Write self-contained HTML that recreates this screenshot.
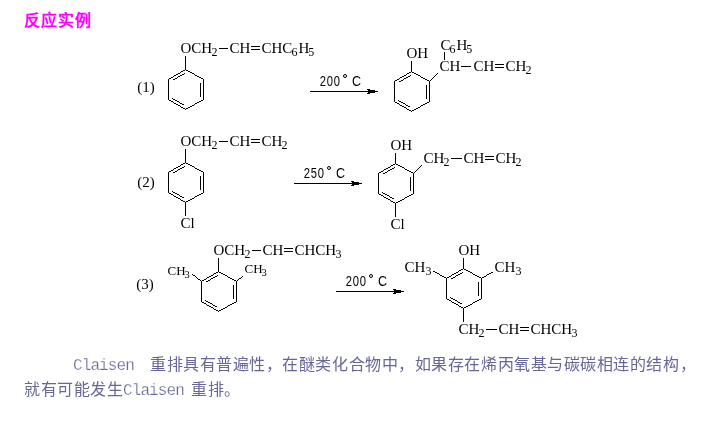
<!DOCTYPE html>
<html lang="zh-CN"><head><meta charset="utf-8"><style>
html,body{margin:0;padding:0;background:#fff;width:708px;height:426px;overflow:hidden}
#c{position:absolute;left:0;top:0;will-change:transform}
.t{position:absolute;white-space:nowrap;font-family:"Liberation Sans",sans-serif;}
.title{left:24px;top:11px;font-size:16px;font-weight:bold;color:#f0f;line-height:20px;letter-spacing:1px}
.p{color:#666699;font-size:16px;line-height:20px;font-weight:300}
.cj{letter-spacing:0.55px}
.lat{font-family:"Liberation Mono",monospace;letter-spacing:-0.9px;font-weight:400;-webkit-text-stroke:0.25px #fff}
</style></head><body>
<div class="t title">反应实例</div>
<svg id="c" width="708" height="426" viewBox="0 0 708 426">
<g fill="#000" stroke="none" shape-rendering="crispEdges">
<rect x="185" y="56" width="1" height="14"/>
<rect x="219" y="48" width="9" height="1"/>
<rect x="251" y="46" width="9" height="1"/>
<rect x="251" y="49" width="9" height="1"/>
<rect x="310" y="91" width="68" height="1"/>
<rect x="367" y="89" width="3" height="1"/>
<rect x="367" y="93" width="3" height="1"/>
<rect x="368" y="90" width="7" height="1"/>
<rect x="368" y="92" width="7" height="1"/>
<circle cx="345" cy="76" r="1.5" fill="none" stroke="#000" stroke-width="1" shape-rendering="auto"/>
<rect x="411" y="61" width="1" height="11"/>
<rect x="444" y="52" width="1" height="8"/>
<rect x="461" y="66" width="10" height="1"/>
<rect x="495" y="64" width="9" height="1"/>
<rect x="495" y="67" width="9" height="1"/>
<rect x="185" y="149" width="1" height="14"/>
<rect x="219" y="141" width="9" height="1"/>
<rect x="251" y="139" width="9" height="1"/>
<rect x="251" y="142" width="9" height="1"/>
<rect x="185" y="203" width="1" height="13"/>
<rect x="294" y="183" width="68" height="1"/>
<rect x="351" y="181" width="3" height="1"/>
<rect x="351" y="185" width="3" height="1"/>
<rect x="352" y="182" width="7" height="1"/>
<rect x="352" y="184" width="7" height="1"/>
<circle cx="329" cy="168" r="1.5" fill="none" stroke="#000" stroke-width="1" shape-rendering="auto"/>
<rect x="395" y="153" width="1" height="11"/>
<rect x="451" y="158" width="11" height="1"/>
<rect x="485" y="156" width="9" height="1"/>
<rect x="485" y="159" width="9" height="1"/>
<rect x="395" y="204" width="1" height="13"/>
<rect x="218" y="258" width="1" height="14"/>
<rect x="252" y="250" width="9" height="1"/>
<rect x="284" y="248" width="9" height="1"/>
<rect x="284" y="251" width="9" height="1"/>
<rect x="336" y="291" width="68" height="1"/>
<rect x="393" y="289" width="3" height="1"/>
<rect x="393" y="293" width="3" height="1"/>
<rect x="394" y="290" width="7" height="1"/>
<rect x="394" y="292" width="7" height="1"/>
<circle cx="371" cy="276" r="1.5" fill="none" stroke="#000" stroke-width="1" shape-rendering="auto"/>
<rect x="463" y="258" width="1" height="11"/>
<rect x="463" y="309" width="1" height="13"/>
<rect x="486" y="329" width="11" height="1"/>
<rect x="520" y="327" width="9" height="1"/>
<rect x="520" y="330" width="9" height="1"/>
<path d="M168 79h1v1h-1zM168 80h1v1h-1zM168 81h1v1h-1zM168 82h1v1h-1zM168 83h1v1h-1zM168 84h1v1h-1zM168 85h1v1h-1zM168 86h1v1h-1zM168 87h1v1h-1zM168 88h1v1h-1zM168 89h1v1h-1zM168 90h1v1h-1zM168 91h1v1h-1zM168 92h1v1h-1zM168 93h1v1h-1zM168 94h1v1h-1zM168 95h1v1h-1zM168 96h1v1h-1zM168 97h1v1h-1zM168 98h1v1h-1zM168 99h1v1h-1zM168 172h1v1h-1zM168 173h1v1h-1zM168 174h1v1h-1zM168 175h1v1h-1zM168 176h1v1h-1zM168 177h1v1h-1zM168 178h1v1h-1zM168 179h1v1h-1zM168 180h1v1h-1zM168 181h1v1h-1zM168 182h1v1h-1zM168 183h1v1h-1zM168 184h1v1h-1zM168 185h1v1h-1zM168 186h1v1h-1zM168 187h1v1h-1zM168 188h1v1h-1zM168 189h1v1h-1zM168 190h1v1h-1zM168 191h1v1h-1zM168 192h1v1h-1zM169 78h1v1h-1zM169 100h1v1h-1zM169 171h1v1h-1zM169 193h1v1h-1zM170 78h1v1h-1zM170 100h1v1h-1zM170 171h1v1h-1zM170 193h1v1h-1zM171 77h1v1h-1zM171 101h1v1h-1zM171 170h1v1h-1zM171 194h1v1h-1zM172 77h1v1h-1zM172 98h1v1h-1zM172 101h1v1h-1zM172 170h1v1h-1zM172 191h1v1h-1zM172 194h1v1h-1zM173 76h1v1h-1zM173 79h1v1h-1zM173 99h1v1h-1zM173 102h1v1h-1zM173 169h1v1h-1zM173 172h1v1h-1zM173 192h1v1h-1zM173 195h1v1h-1zM174 75h1v1h-1zM174 79h1v1h-1zM174 99h1v1h-1zM174 103h1v1h-1zM174 168h1v1h-1zM174 172h1v1h-1zM174 192h1v1h-1zM174 196h1v1h-1zM175 75h1v1h-1zM175 78h1v1h-1zM175 100h1v1h-1zM175 103h1v1h-1zM175 168h1v1h-1zM175 171h1v1h-1zM175 193h1v1h-1zM175 196h1v1h-1zM176 74h1v1h-1zM176 78h1v1h-1zM176 100h1v1h-1zM176 104h1v1h-1zM176 167h1v1h-1zM176 171h1v1h-1zM176 193h1v1h-1zM176 197h1v1h-1zM177 74h1v1h-1zM177 77h1v1h-1zM177 101h1v1h-1zM177 104h1v1h-1zM177 167h1v1h-1zM177 170h1v1h-1zM177 194h1v1h-1zM177 197h1v1h-1zM178 73h1v1h-1zM178 76h1v1h-1zM178 101h1v1h-1zM178 105h1v1h-1zM178 166h1v1h-1zM178 169h1v1h-1zM178 194h1v1h-1zM178 198h1v1h-1zM179 73h1v1h-1zM179 76h1v1h-1zM179 102h1v1h-1zM179 105h1v1h-1zM179 166h1v1h-1zM179 169h1v1h-1zM179 195h1v1h-1zM179 198h1v1h-1zM180 72h1v1h-1zM180 75h1v1h-1zM180 103h1v1h-1zM180 106h1v1h-1zM180 165h1v1h-1zM180 168h1v1h-1zM180 196h1v1h-1zM180 199h1v1h-1zM181 71h1v1h-1zM181 75h1v1h-1zM181 103h1v1h-1zM181 107h1v1h-1zM181 164h1v1h-1zM181 168h1v1h-1zM181 196h1v1h-1zM181 200h1v1h-1zM182 71h1v1h-1zM182 74h1v1h-1zM182 104h1v1h-1zM182 107h1v1h-1zM182 164h1v1h-1zM182 167h1v1h-1zM182 197h1v1h-1zM182 200h1v1h-1zM183 70h1v1h-1zM183 74h1v1h-1zM183 104h1v1h-1zM183 108h1v1h-1zM183 163h1v1h-1zM183 167h1v1h-1zM183 197h1v1h-1zM183 201h1v1h-1zM184 70h1v1h-1zM184 73h1v1h-1zM184 108h1v1h-1zM184 163h1v1h-1zM184 166h1v1h-1zM184 201h1v1h-1zM185 109h1v1h-1zM185 202h1v1h-1zM186 70h1v1h-1zM186 108h1v1h-1zM186 163h1v1h-1zM186 201h1v1h-1zM187 70h1v1h-1zM187 108h1v1h-1zM187 163h1v1h-1zM187 201h1v1h-1zM188 71h1v1h-1zM188 107h1v1h-1zM188 164h1v1h-1zM188 200h1v1h-1zM189 71h1v1h-1zM189 107h1v1h-1zM189 164h1v1h-1zM189 200h1v1h-1zM190 72h1v1h-1zM190 106h1v1h-1zM190 165h1v1h-1zM190 199h1v1h-1zM191 72h1v1h-1zM191 106h1v1h-1zM191 165h1v1h-1zM191 199h1v1h-1zM192 73h1v1h-1zM192 105h1v1h-1zM192 166h1v1h-1zM192 198h1v1h-1zM192 274h1v1h-1zM193 73h1v1h-1zM193 105h1v1h-1zM193 166h1v1h-1zM193 198h1v1h-1zM193 275h1v1h-1zM194 74h1v1h-1zM194 104h1v1h-1zM194 167h1v1h-1zM194 197h1v1h-1zM194 275h1v1h-1zM195 75h1v1h-1zM195 103h1v1h-1zM195 168h1v1h-1zM195 196h1v1h-1zM195 276h1v1h-1zM196 75h1v1h-1zM196 103h1v1h-1zM196 168h1v1h-1zM196 196h1v1h-1zM196 277h1v1h-1zM197 76h1v1h-1zM197 102h1v1h-1zM197 169h1v1h-1zM197 195h1v1h-1zM197 278h1v1h-1zM198 76h1v1h-1zM198 102h1v1h-1zM198 169h1v1h-1zM198 195h1v1h-1zM198 279h1v1h-1zM199 77h1v1h-1zM199 101h1v1h-1zM199 170h1v1h-1zM199 194h1v1h-1zM199 279h1v1h-1zM200 77h1v1h-1zM200 83h1v1h-1zM200 84h1v1h-1zM200 85h1v1h-1zM200 86h1v1h-1zM200 87h1v1h-1zM200 88h1v1h-1zM200 89h1v1h-1zM200 90h1v1h-1zM200 91h1v1h-1zM200 92h1v1h-1zM200 93h1v1h-1zM200 94h1v1h-1zM200 95h1v1h-1zM200 96h1v1h-1zM200 101h1v1h-1zM200 170h1v1h-1zM200 176h1v1h-1zM200 177h1v1h-1zM200 178h1v1h-1zM200 179h1v1h-1zM200 180h1v1h-1zM200 181h1v1h-1zM200 182h1v1h-1zM200 183h1v1h-1zM200 184h1v1h-1zM200 185h1v1h-1zM200 186h1v1h-1zM200 187h1v1h-1zM200 188h1v1h-1zM200 189h1v1h-1zM200 194h1v1h-1zM200 280h1v1h-1zM201 78h1v1h-1zM201 100h1v1h-1zM201 171h1v1h-1zM201 193h1v1h-1zM201 281h1v1h-1zM201 282h1v1h-1zM201 283h1v1h-1zM201 284h1v1h-1zM201 285h1v1h-1zM201 286h1v1h-1zM201 287h1v1h-1zM201 288h1v1h-1zM201 289h1v1h-1zM201 290h1v1h-1zM201 291h1v1h-1zM201 292h1v1h-1zM201 293h1v1h-1zM201 294h1v1h-1zM201 295h1v1h-1zM201 296h1v1h-1zM201 297h1v1h-1zM201 298h1v1h-1zM201 299h1v1h-1zM201 300h1v1h-1zM201 301h1v1h-1zM202 78h1v1h-1zM202 100h1v1h-1zM202 171h1v1h-1zM202 193h1v1h-1zM202 280h1v1h-1zM202 302h1v1h-1zM203 79h1v1h-1zM203 80h1v1h-1zM203 81h1v1h-1zM203 82h1v1h-1zM203 83h1v1h-1zM203 84h1v1h-1zM203 85h1v1h-1zM203 86h1v1h-1zM203 87h1v1h-1zM203 88h1v1h-1zM203 89h1v1h-1zM203 90h1v1h-1zM203 91h1v1h-1zM203 92h1v1h-1zM203 93h1v1h-1zM203 94h1v1h-1zM203 95h1v1h-1zM203 96h1v1h-1zM203 97h1v1h-1zM203 98h1v1h-1zM203 99h1v1h-1zM203 172h1v1h-1zM203 173h1v1h-1zM203 174h1v1h-1zM203 175h1v1h-1zM203 176h1v1h-1zM203 177h1v1h-1zM203 178h1v1h-1zM203 179h1v1h-1zM203 180h1v1h-1zM203 181h1v1h-1zM203 182h1v1h-1zM203 183h1v1h-1zM203 184h1v1h-1zM203 185h1v1h-1zM203 186h1v1h-1zM203 187h1v1h-1zM203 188h1v1h-1zM203 189h1v1h-1zM203 190h1v1h-1zM203 191h1v1h-1zM203 192h1v1h-1zM203 280h1v1h-1zM203 302h1v1h-1zM204 279h1v1h-1zM204 303h1v1h-1zM205 279h1v1h-1zM205 300h1v1h-1zM205 303h1v1h-1zM206 278h1v1h-1zM206 281h1v1h-1zM206 301h1v1h-1zM206 304h1v1h-1zM207 277h1v1h-1zM207 281h1v1h-1zM207 301h1v1h-1zM207 305h1v1h-1zM208 277h1v1h-1zM208 280h1v1h-1zM208 302h1v1h-1zM208 305h1v1h-1zM209 276h1v1h-1zM209 280h1v1h-1zM209 302h1v1h-1zM209 306h1v1h-1zM210 276h1v1h-1zM210 279h1v1h-1zM210 303h1v1h-1zM210 306h1v1h-1zM211 275h1v1h-1zM211 278h1v1h-1zM211 303h1v1h-1zM211 307h1v1h-1zM212 275h1v1h-1zM212 278h1v1h-1zM212 304h1v1h-1zM212 307h1v1h-1zM213 274h1v1h-1zM213 277h1v1h-1zM213 305h1v1h-1zM213 308h1v1h-1zM214 273h1v1h-1zM214 277h1v1h-1zM214 305h1v1h-1zM214 309h1v1h-1zM215 273h1v1h-1zM215 276h1v1h-1zM215 306h1v1h-1zM215 309h1v1h-1zM216 272h1v1h-1zM216 276h1v1h-1zM216 306h1v1h-1zM216 310h1v1h-1zM217 272h1v1h-1zM217 275h1v1h-1zM217 310h1v1h-1zM218 311h1v1h-1zM219 272h1v1h-1zM219 310h1v1h-1zM220 272h1v1h-1zM220 310h1v1h-1zM221 273h1v1h-1zM221 309h1v1h-1zM222 273h1v1h-1zM222 309h1v1h-1zM223 274h1v1h-1zM223 308h1v1h-1zM224 274h1v1h-1zM224 308h1v1h-1zM225 275h1v1h-1zM225 307h1v1h-1zM226 275h1v1h-1zM226 307h1v1h-1zM227 276h1v1h-1zM227 306h1v1h-1zM228 277h1v1h-1zM228 305h1v1h-1zM229 277h1v1h-1zM229 305h1v1h-1zM230 278h1v1h-1zM230 304h1v1h-1zM231 278h1v1h-1zM231 304h1v1h-1zM232 279h1v1h-1zM232 303h1v1h-1zM233 279h1v1h-1zM233 285h1v1h-1zM233 286h1v1h-1zM233 287h1v1h-1zM233 288h1v1h-1zM233 289h1v1h-1zM233 290h1v1h-1zM233 291h1v1h-1zM233 292h1v1h-1zM233 293h1v1h-1zM233 294h1v1h-1zM233 295h1v1h-1zM233 296h1v1h-1zM233 297h1v1h-1zM233 298h1v1h-1zM233 303h1v1h-1zM234 280h1v1h-1zM234 302h1v1h-1zM235 280h1v1h-1zM235 302h1v1h-1zM236 281h1v1h-1zM236 282h1v1h-1zM236 283h1v1h-1zM236 284h1v1h-1zM236 285h1v1h-1zM236 286h1v1h-1zM236 287h1v1h-1zM236 288h1v1h-1zM236 289h1v1h-1zM236 290h1v1h-1zM236 291h1v1h-1zM236 292h1v1h-1zM236 293h1v1h-1zM236 294h1v1h-1zM236 295h1v1h-1zM236 296h1v1h-1zM236 297h1v1h-1zM236 298h1v1h-1zM236 299h1v1h-1zM236 300h1v1h-1zM236 301h1v1h-1zM237 280h1v1h-1zM238 279h1v1h-1zM239 278h1v1h-1zM240 278h1v1h-1zM241 277h1v1h-1zM242 276h1v1h-1zM378 173h1v1h-1zM378 174h1v1h-1zM378 175h1v1h-1zM378 176h1v1h-1zM378 177h1v1h-1zM378 178h1v1h-1zM378 179h1v1h-1zM378 180h1v1h-1zM378 181h1v1h-1zM378 182h1v1h-1zM378 183h1v1h-1zM378 184h1v1h-1zM378 185h1v1h-1zM378 186h1v1h-1zM378 187h1v1h-1zM378 188h1v1h-1zM378 189h1v1h-1zM378 190h1v1h-1zM378 191h1v1h-1zM378 192h1v1h-1zM378 193h1v1h-1zM379 172h1v1h-1zM379 194h1v1h-1zM380 172h1v1h-1zM380 194h1v1h-1zM381 171h1v1h-1zM381 195h1v1h-1zM382 171h1v1h-1zM382 192h1v1h-1zM382 195h1v1h-1zM383 170h1v1h-1zM383 173h1v1h-1zM383 193h1v1h-1zM383 196h1v1h-1zM384 169h1v1h-1zM384 173h1v1h-1zM384 193h1v1h-1zM384 197h1v1h-1zM385 169h1v1h-1zM385 172h1v1h-1zM385 194h1v1h-1zM385 197h1v1h-1zM386 168h1v1h-1zM386 172h1v1h-1zM386 194h1v1h-1zM386 198h1v1h-1zM387 168h1v1h-1zM387 171h1v1h-1zM387 195h1v1h-1zM387 198h1v1h-1zM388 167h1v1h-1zM388 170h1v1h-1zM388 195h1v1h-1zM388 199h1v1h-1zM389 167h1v1h-1zM389 170h1v1h-1zM389 196h1v1h-1zM389 199h1v1h-1zM390 166h1v1h-1zM390 169h1v1h-1zM390 197h1v1h-1zM390 200h1v1h-1zM391 165h1v1h-1zM391 169h1v1h-1zM391 197h1v1h-1zM391 201h1v1h-1zM392 165h1v1h-1zM392 168h1v1h-1zM392 198h1v1h-1zM392 201h1v1h-1zM393 164h1v1h-1zM393 168h1v1h-1zM393 198h1v1h-1zM393 202h1v1h-1zM394 81h1v1h-1zM394 82h1v1h-1zM394 83h1v1h-1zM394 84h1v1h-1zM394 85h1v1h-1zM394 86h1v1h-1zM394 87h1v1h-1zM394 88h1v1h-1zM394 89h1v1h-1zM394 90h1v1h-1zM394 91h1v1h-1zM394 92h1v1h-1zM394 93h1v1h-1zM394 94h1v1h-1zM394 95h1v1h-1zM394 96h1v1h-1zM394 97h1v1h-1zM394 98h1v1h-1zM394 99h1v1h-1zM394 100h1v1h-1zM394 101h1v1h-1zM394 164h1v1h-1zM394 167h1v1h-1zM394 202h1v1h-1zM395 80h1v1h-1zM395 102h1v1h-1zM395 203h1v1h-1zM396 80h1v1h-1zM396 102h1v1h-1zM396 164h1v1h-1zM396 202h1v1h-1zM397 79h1v1h-1zM397 103h1v1h-1zM397 164h1v1h-1zM397 202h1v1h-1zM398 79h1v1h-1zM398 100h1v1h-1zM398 103h1v1h-1zM398 165h1v1h-1zM398 201h1v1h-1zM399 78h1v1h-1zM399 81h1v1h-1zM399 101h1v1h-1zM399 104h1v1h-1zM399 165h1v1h-1zM399 201h1v1h-1zM400 77h1v1h-1zM400 81h1v1h-1zM400 101h1v1h-1zM400 105h1v1h-1zM400 166h1v1h-1zM400 200h1v1h-1zM401 77h1v1h-1zM401 80h1v1h-1zM401 102h1v1h-1zM401 105h1v1h-1zM401 166h1v1h-1zM401 200h1v1h-1zM402 76h1v1h-1zM402 80h1v1h-1zM402 102h1v1h-1zM402 106h1v1h-1zM402 167h1v1h-1zM402 199h1v1h-1zM403 76h1v1h-1zM403 79h1v1h-1zM403 103h1v1h-1zM403 106h1v1h-1zM403 167h1v1h-1zM403 199h1v1h-1zM404 75h1v1h-1zM404 78h1v1h-1zM404 103h1v1h-1zM404 107h1v1h-1zM404 168h1v1h-1zM404 198h1v1h-1zM405 75h1v1h-1zM405 78h1v1h-1zM405 104h1v1h-1zM405 107h1v1h-1zM405 169h1v1h-1zM405 197h1v1h-1zM406 74h1v1h-1zM406 77h1v1h-1zM406 105h1v1h-1zM406 108h1v1h-1zM406 169h1v1h-1zM406 197h1v1h-1zM407 73h1v1h-1zM407 77h1v1h-1zM407 105h1v1h-1zM407 109h1v1h-1zM407 170h1v1h-1zM407 196h1v1h-1zM408 73h1v1h-1zM408 76h1v1h-1zM408 106h1v1h-1zM408 109h1v1h-1zM408 170h1v1h-1zM408 196h1v1h-1zM409 72h1v1h-1zM409 76h1v1h-1zM409 106h1v1h-1zM409 110h1v1h-1zM409 171h1v1h-1zM409 195h1v1h-1zM410 72h1v1h-1zM410 75h1v1h-1zM410 110h1v1h-1zM410 171h1v1h-1zM410 177h1v1h-1zM410 178h1v1h-1zM410 179h1v1h-1zM410 180h1v1h-1zM410 181h1v1h-1zM410 182h1v1h-1zM410 183h1v1h-1zM410 184h1v1h-1zM410 185h1v1h-1zM410 186h1v1h-1zM410 187h1v1h-1zM410 188h1v1h-1zM410 189h1v1h-1zM410 190h1v1h-1zM410 195h1v1h-1zM411 111h1v1h-1zM411 172h1v1h-1zM411 194h1v1h-1zM412 72h1v1h-1zM412 110h1v1h-1zM412 172h1v1h-1zM412 194h1v1h-1zM413 72h1v1h-1zM413 110h1v1h-1zM413 173h1v1h-1zM413 174h1v1h-1zM413 175h1v1h-1zM413 176h1v1h-1zM413 177h1v1h-1zM413 178h1v1h-1zM413 179h1v1h-1zM413 180h1v1h-1zM413 181h1v1h-1zM413 182h1v1h-1zM413 183h1v1h-1zM413 184h1v1h-1zM413 185h1v1h-1zM413 186h1v1h-1zM413 187h1v1h-1zM413 188h1v1h-1zM413 189h1v1h-1zM413 190h1v1h-1zM413 191h1v1h-1zM413 192h1v1h-1zM413 193h1v1h-1zM414 73h1v1h-1zM414 109h1v1h-1zM414 172h1v1h-1zM415 73h1v1h-1zM415 109h1v1h-1zM415 171h1v1h-1zM416 74h1v1h-1zM416 108h1v1h-1zM416 170h1v1h-1zM417 74h1v1h-1zM417 108h1v1h-1zM417 169h1v1h-1zM418 75h1v1h-1zM418 107h1v1h-1zM418 168h1v1h-1zM419 75h1v1h-1zM419 107h1v1h-1zM419 167h1v1h-1zM420 76h1v1h-1zM420 106h1v1h-1zM420 166h1v1h-1zM421 77h1v1h-1zM421 105h1v1h-1zM421 165h1v1h-1zM422 77h1v1h-1zM422 105h1v1h-1zM423 78h1v1h-1zM423 104h1v1h-1zM424 78h1v1h-1zM424 104h1v1h-1zM425 79h1v1h-1zM425 103h1v1h-1zM426 79h1v1h-1zM426 85h1v1h-1zM426 86h1v1h-1zM426 87h1v1h-1zM426 88h1v1h-1zM426 89h1v1h-1zM426 90h1v1h-1zM426 91h1v1h-1zM426 92h1v1h-1zM426 93h1v1h-1zM426 94h1v1h-1zM426 95h1v1h-1zM426 96h1v1h-1zM426 97h1v1h-1zM426 98h1v1h-1zM426 103h1v1h-1zM427 80h1v1h-1zM427 102h1v1h-1zM428 80h1v1h-1zM428 102h1v1h-1zM429 81h1v1h-1zM429 82h1v1h-1zM429 83h1v1h-1zM429 84h1v1h-1zM429 85h1v1h-1zM429 86h1v1h-1zM429 87h1v1h-1zM429 88h1v1h-1zM429 89h1v1h-1zM429 90h1v1h-1zM429 91h1v1h-1zM429 92h1v1h-1zM429 93h1v1h-1zM429 94h1v1h-1zM429 95h1v1h-1zM429 96h1v1h-1zM429 97h1v1h-1zM429 98h1v1h-1zM429 99h1v1h-1zM429 100h1v1h-1zM429 101h1v1h-1zM430 80h1v1h-1zM431 79h1v1h-1zM432 78h1v1h-1zM433 77h1v1h-1zM433 271h1v1h-1zM434 76h1v1h-1zM434 271h1v1h-1zM435 75h1v1h-1zM435 272h1v1h-1zM436 74h1v1h-1zM436 272h1v1h-1zM437 73h1v1h-1zM437 273h1v1h-1zM438 273h1v1h-1zM439 274h1v1h-1zM440 275h1v1h-1zM441 275h1v1h-1zM442 276h1v1h-1zM443 276h1v1h-1zM444 277h1v1h-1zM445 277h1v1h-1zM446 278h1v1h-1zM446 279h1v1h-1zM446 280h1v1h-1zM446 281h1v1h-1zM446 282h1v1h-1zM446 283h1v1h-1zM446 284h1v1h-1zM446 285h1v1h-1zM446 286h1v1h-1zM446 287h1v1h-1zM446 288h1v1h-1zM446 289h1v1h-1zM446 290h1v1h-1zM446 291h1v1h-1zM446 292h1v1h-1zM446 293h1v1h-1zM446 294h1v1h-1zM446 295h1v1h-1zM446 296h1v1h-1zM446 297h1v1h-1zM446 298h1v1h-1zM447 277h1v1h-1zM447 299h1v1h-1zM448 277h1v1h-1zM448 299h1v1h-1zM449 276h1v1h-1zM449 300h1v1h-1zM450 276h1v1h-1zM450 297h1v1h-1zM450 300h1v1h-1zM451 275h1v1h-1zM451 278h1v1h-1zM451 298h1v1h-1zM451 301h1v1h-1zM452 274h1v1h-1zM452 278h1v1h-1zM452 298h1v1h-1zM452 302h1v1h-1zM453 274h1v1h-1zM453 277h1v1h-1zM453 299h1v1h-1zM453 302h1v1h-1zM454 273h1v1h-1zM454 277h1v1h-1zM454 299h1v1h-1zM454 303h1v1h-1zM455 273h1v1h-1zM455 276h1v1h-1zM455 300h1v1h-1zM455 303h1v1h-1zM456 272h1v1h-1zM456 275h1v1h-1zM456 300h1v1h-1zM456 304h1v1h-1zM457 272h1v1h-1zM457 275h1v1h-1zM457 301h1v1h-1zM457 304h1v1h-1zM458 271h1v1h-1zM458 274h1v1h-1zM458 302h1v1h-1zM458 305h1v1h-1zM459 270h1v1h-1zM459 274h1v1h-1zM459 302h1v1h-1zM459 306h1v1h-1zM460 270h1v1h-1zM460 273h1v1h-1zM460 303h1v1h-1zM460 306h1v1h-1zM461 269h1v1h-1zM461 273h1v1h-1zM461 303h1v1h-1zM461 307h1v1h-1zM462 269h1v1h-1zM462 272h1v1h-1zM462 307h1v1h-1zM463 308h1v1h-1zM464 269h1v1h-1zM464 307h1v1h-1zM465 269h1v1h-1zM465 307h1v1h-1zM466 270h1v1h-1zM466 306h1v1h-1zM467 270h1v1h-1zM467 306h1v1h-1zM468 271h1v1h-1zM468 305h1v1h-1zM469 271h1v1h-1zM469 305h1v1h-1zM470 272h1v1h-1zM470 304h1v1h-1zM471 272h1v1h-1zM471 304h1v1h-1zM472 273h1v1h-1zM472 303h1v1h-1zM473 274h1v1h-1zM473 302h1v1h-1zM474 274h1v1h-1zM474 302h1v1h-1zM475 275h1v1h-1zM475 301h1v1h-1zM476 275h1v1h-1zM476 301h1v1h-1zM477 276h1v1h-1zM477 300h1v1h-1zM478 276h1v1h-1zM478 282h1v1h-1zM478 283h1v1h-1zM478 284h1v1h-1zM478 285h1v1h-1zM478 286h1v1h-1zM478 287h1v1h-1zM478 288h1v1h-1zM478 289h1v1h-1zM478 290h1v1h-1zM478 291h1v1h-1zM478 292h1v1h-1zM478 293h1v1h-1zM478 294h1v1h-1zM478 295h1v1h-1zM478 300h1v1h-1zM479 277h1v1h-1zM479 299h1v1h-1zM480 277h1v1h-1zM480 299h1v1h-1zM481 278h1v1h-1zM481 279h1v1h-1zM481 280h1v1h-1zM481 281h1v1h-1zM481 282h1v1h-1zM481 283h1v1h-1zM481 284h1v1h-1zM481 285h1v1h-1zM481 286h1v1h-1zM481 287h1v1h-1zM481 288h1v1h-1zM481 289h1v1h-1zM481 290h1v1h-1zM481 291h1v1h-1zM481 292h1v1h-1zM481 293h1v1h-1zM481 294h1v1h-1zM481 295h1v1h-1zM481 296h1v1h-1zM481 297h1v1h-1zM481 298h1v1h-1zM482 277h1v1h-1zM483 277h1v1h-1zM484 276h1v1h-1zM485 276h1v1h-1zM486 275h1v1h-1zM487 274h1v1h-1zM488 274h1v1h-1zM489 273h1v1h-1zM490 273h1v1h-1zM491 272h1v1h-1zM492 272h1v1h-1z"/>
</g>
<g fill="#000">
<text x="137.34" y="92" font-size="15.0" font-family="'Liberation Serif',serif">(1)</text>
<text x="180.38" y="53" font-size="15.0" font-family="'Liberation Serif',serif">OCH</text>
<text x="211.47" y="56" font-size="12.0" font-family="'Liberation Serif',serif">2</text>
<text x="229.38" y="53" font-size="15.0" font-family="'Liberation Serif',serif">CH</text>
<text x="261.38" y="53" font-size="15.0" font-family="'Liberation Serif',serif">CHC</text>
<text x="291.48" y="56" font-size="12.0" font-family="'Liberation Serif',serif">6</text>
<text x="298.57" y="53" font-size="15.0" font-family="'Liberation Serif',serif">H</text>
<text x="308.30" y="56" font-size="12.0" font-family="'Liberation Serif',serif">5</text>
<text transform="translate(319.64,86) scale(0.8,1)" font-size="14" font-family="'Liberation Sans',sans-serif">2</text>
<text transform="translate(326.76,86) scale(0.8,1)" font-size="14" font-family="'Liberation Sans',sans-serif">0</text>
<text transform="translate(333.76,86) scale(0.8,1)" font-size="14" font-family="'Liberation Sans',sans-serif">0</text>
<text transform="translate(351.96,86) scale(0.9,1)" font-size="14" font-family="'Liberation Sans',sans-serif">C</text>
<text x="406.38" y="58" font-size="15.0" font-family="'Liberation Serif',serif">OH</text>
<text x="440.38" y="50" font-size="15.0" font-family="'Liberation Serif',serif">C</text>
<text x="449.48" y="53" font-size="12.0" font-family="'Liberation Serif',serif">6</text>
<text x="456.57" y="50" font-size="15.0" font-family="'Liberation Serif',serif">H</text>
<text x="466.30" y="53" font-size="12.0" font-family="'Liberation Serif',serif">5</text>
<text x="439.38" y="71" font-size="15.0" font-family="'Liberation Serif',serif">CH</text>
<text x="473.38" y="71" font-size="15.0" font-family="'Liberation Serif',serif">CH</text>
<text x="505.38" y="71" font-size="15.0" font-family="'Liberation Serif',serif">CH</text>
<text x="525.47" y="74" font-size="12.0" font-family="'Liberation Serif',serif">2</text>
<text x="137.34" y="187" font-size="15.0" font-family="'Liberation Serif',serif">(2)</text>
<text x="180.38" y="146" font-size="15.0" font-family="'Liberation Serif',serif">OCH</text>
<text x="211.47" y="149" font-size="12.0" font-family="'Liberation Serif',serif">2</text>
<text x="229.38" y="146" font-size="15.0" font-family="'Liberation Serif',serif">CH</text>
<text x="261.38" y="146" font-size="15.0" font-family="'Liberation Serif',serif">CH</text>
<text x="281.47" y="149" font-size="12.0" font-family="'Liberation Serif',serif">2</text>
<text x="180.38" y="228" font-size="15.0" font-family="'Liberation Serif',serif">Cl</text>
<text transform="translate(303.64,178) scale(0.8,1)" font-size="14" font-family="'Liberation Sans',sans-serif">2</text>
<text transform="translate(310.75,178) scale(0.8,1)" font-size="14" font-family="'Liberation Sans',sans-serif">5</text>
<text transform="translate(317.76,178) scale(0.8,1)" font-size="14" font-family="'Liberation Sans',sans-serif">0</text>
<text transform="translate(335.96,178) scale(0.9,1)" font-size="14" font-family="'Liberation Sans',sans-serif">C</text>
<text x="390.38" y="150" font-size="15.0" font-family="'Liberation Serif',serif">OH</text>
<text x="423.38" y="163" font-size="15.0" font-family="'Liberation Serif',serif">CH</text>
<text x="443.47" y="166" font-size="12.0" font-family="'Liberation Serif',serif">2</text>
<text x="463.38" y="163" font-size="15.0" font-family="'Liberation Serif',serif">CH</text>
<text x="495.38" y="163" font-size="15.0" font-family="'Liberation Serif',serif">CH</text>
<text x="515.47" y="166" font-size="12.0" font-family="'Liberation Serif',serif">2</text>
<text x="390.38" y="229" font-size="15.0" font-family="'Liberation Serif',serif">Cl</text>
<text x="136.34" y="289" font-size="15.0" font-family="'Liberation Serif',serif">(3)</text>
<text x="213.38" y="255" font-size="15.0" font-family="'Liberation Serif',serif">OCH</text>
<text x="244.47" y="258" font-size="12.0" font-family="'Liberation Serif',serif">2</text>
<text x="262.38" y="255" font-size="15.0" font-family="'Liberation Serif',serif">CH</text>
<text x="294.38" y="255" font-size="15.0" font-family="'Liberation Serif',serif">CHCH</text>
<text x="335.43" y="258" font-size="12.0" font-family="'Liberation Serif',serif">3</text>
<text x="167.47" y="274.6" font-size="13" font-family="'Liberation Serif',serif">CH</text>
<text x="184.50" y="277.6" font-size="10.5" font-family="'Liberation Serif',serif">3</text>
<text x="244.47" y="272.6" font-size="13" font-family="'Liberation Serif',serif">CH</text>
<text x="261.50" y="275.6" font-size="10.5" font-family="'Liberation Serif',serif">3</text>
<text transform="translate(345.64,286) scale(0.8,1)" font-size="14" font-family="'Liberation Sans',sans-serif">2</text>
<text transform="translate(352.76,286) scale(0.8,1)" font-size="14" font-family="'Liberation Sans',sans-serif">0</text>
<text transform="translate(359.76,286) scale(0.8,1)" font-size="14" font-family="'Liberation Sans',sans-serif">0</text>
<text transform="translate(377.96,286) scale(0.9,1)" font-size="14" font-family="'Liberation Sans',sans-serif">C</text>
<text x="458.38" y="255" font-size="15.0" font-family="'Liberation Serif',serif">OH</text>
<text x="404.38" y="272" font-size="15.0" font-family="'Liberation Serif',serif">CH</text>
<text x="425.43" y="275" font-size="12.0" font-family="'Liberation Serif',serif">3</text>
<text x="494.38" y="272" font-size="15.0" font-family="'Liberation Serif',serif">CH</text>
<text x="515.43" y="275" font-size="12.0" font-family="'Liberation Serif',serif">3</text>
<text x="458.38" y="334" font-size="15.0" font-family="'Liberation Serif',serif">CH</text>
<text x="478.47" y="337" font-size="12.0" font-family="'Liberation Serif',serif">2</text>
<text x="498.38" y="334" font-size="15.0" font-family="'Liberation Serif',serif">CH</text>
<text x="530.38" y="334" font-size="15.0" font-family="'Liberation Serif',serif">CHCH</text>
<text x="571.43" y="337" font-size="12.0" font-family="'Liberation Serif',serif">3</text>
</g></svg>
<div class="t p lat" style="left:73px;top:356px">Claisen</div>
<div class="t p cj" style="left:150px;top:355px">重排具有普遍性，在醚类化合物中，如果存在烯丙氧基与碳碳相连的结构，</div>
<div class="t p cj" style="left:24px;top:380px">就有可能发生</div>
<div class="t p lat" style="left:123px;top:381px">Claisen</div>
<div class="t p cj" style="left:191px;top:380px">重排。</div>
</body></html>
